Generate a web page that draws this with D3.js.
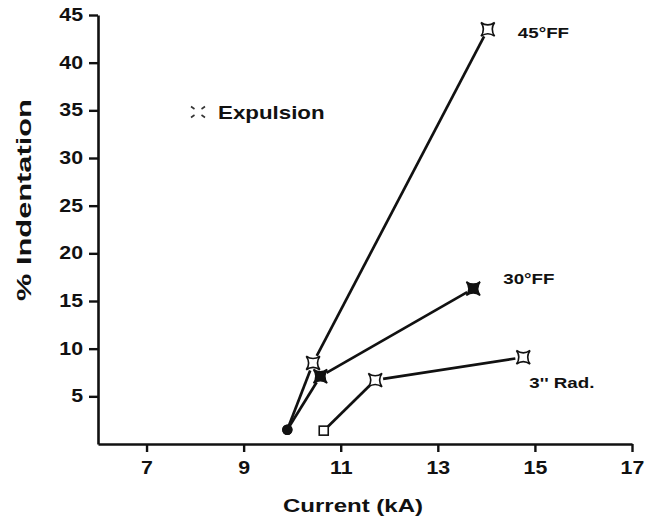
<!DOCTYPE html>
<html>
<head>
<meta charset="utf-8">
<script src="https://cdn.jsdelivr.net/npm/d3@7"></script>
<style>
  body { margin: 0; background: #fff; }
  svg { display: block; }
  text { font-family: "Liberation Sans", Arial, Helvetica, sans-serif; font-weight: bold; fill: #111; }
</style>
</head>
<body>
<svg id="svg"></svg>
<script>
let svg = d3.select("#svg");

const width = 646;
const height = 517;

// data
const current45 = [9.9, 10.43, 14.03];
const indent45 = [1.5, 8.5, 43.5];
const marker45 = ["circle", "openStar", "openStar"];

const current30 = [9.9, 10.58, 13.73];
const indent30 = [1.5, 7.1, 16.3];
const marker30 = ["circle", "filledStar", "filledStar"];

const currentRad = [10.65, 11.71, 14.76];
const indentRad = [1.4, 6.7, 9.1];
const markerRad = ["square", "openStar", "openStar"];

const seriesNames = ["45°FF", "30°FF", "3'' Rad."];
const xTicks = [7, 9, 11, 13, 15, 17];
const yTicks = [5, 10, 15, 20, 25, 30, 35, 40, 45];

// the scanned lettering is wider than the font, stretch it a bit
const sx = 1.22;

svg.attr("width", width).attr("height", height);

let x = d3.scaleLinear().domain([6, 17]).range([98, 632]);
let y = d3.scaleLinear().domain([0, 45]).range([444, 15]);

// axes
let xAxis = svg.append("g")
    .attr("transform", `translate(0,${y(0)})`)
    .call(d3.axisBottom(x).tickValues(xTicks).tickSize(8).tickSizeOuter(0).tickPadding(10));

let yAxis = svg.append("g")
    .attr("transform", `translate(${x(6)},0)`)
    .call(d3.axisLeft(y).tickValues(yTicks).tickSize(9).tickSizeOuter(0).tickPadding(6));

[xAxis, yAxis].forEach(ax => {
    ax.select(".domain").attr("stroke", "#111").attr("stroke-width", 2.6);
    ax.selectAll(".tick line").attr("stroke", "#111").attr("stroke-width", 2.4);
    ax.selectAll(".tick text")
        .attr("fill", "#111")
        .style("font-size", "17.5px")
        .attr("transform", `scale(${sx},1)`);
});
yAxis.selectAll(".tick text").attr("x", -15 / sx);

function stretchedText(str, tx, ty, size, anchor, rot, stretch) {
    return svg.append("text")
        .attr("transform", `translate(${tx},${ty}) rotate(${rot || 0}) scale(${stretch || sx},1)`)
        .attr("text-anchor", anchor)
        .style("font-size", size + "px")
        .text(str);
}

// axis titles
stretchedText("Current (kA)", 353, 512, 18.5, "middle", 0, 1.3);
stretchedText("% Indentation", 31, 200, 19.5, "middle", -90, 1.58);

// markers
function starPath(r) {
    let c = r * 0.3;
    return `M${-r},${-r}Q0,${-c} ${r},${-r}Q${c},0 ${r},${r}Q0,${c} ${-r},${r}Q${-c},0 ${-r},${-r}Z`;
}

function drawMarker(kind, px, py) {
    if (kind === "circle") {
        svg.append("circle").attr("cx", px).attr("cy", py).attr("r", 5.2).attr("fill", "#111");
    } else if (kind === "square") {
        svg.append("rect").attr("x", px - 4.5).attr("y", py - 4.5)
            .attr("width", 9).attr("height", 9)
            .attr("fill", "#fff").attr("stroke", "#111").attr("stroke-width", 1.6);
    } else {
        svg.append("path").attr("d", starPath(6.8))
            .attr("transform", `translate(${px},${py})`)
            .attr("fill", kind === "filledStar" ? "#111" : "#fff")
            .attr("stroke", "#111").attr("stroke-width", 1.6);
    }
}

const gaps = { circle: 4, square: 6, openStar: 8, filledStar: 7 };

function drawSeries(xs, ys, marks) {
    for (let i = 0; i < xs.length - 1; i++) {
        let x0 = x(xs[i]), y0 = y(ys[i]);
        let x1 = x(xs[i + 1]), y1 = y(ys[i + 1]);
        let len = Math.hypot(x1 - x0, y1 - y0);
        let ux = (x1 - x0) / len, uy = (y1 - y0) / len;
        let g0 = gaps[marks[i]], g1 = gaps[marks[i + 1]];
        svg.append("line")
            .attr("x1", x0 + ux * g0).attr("y1", y0 + uy * g0)
            .attr("x2", x1 - ux * g1).attr("y2", y1 - uy * g1)
            .attr("stroke", "#111").attr("stroke-width", 2.7);
    }
    xs.forEach((d, i) => drawMarker(marks[i], x(d), y(ys[i])));
}

drawSeries(current45, indent45, marker45);
drawSeries(current30, indent30, marker30);
drawSeries(currentRad, indentRad, markerRad);

// series labels, offset from the last point of each series
const lastPts = [
    [current45[2], indent45[2], 30, 9],
    [current30[2], indent30[2], 30, -5],
    [currentRad[2], indentRad[2], 6, 31]
];
lastPts.forEach((p, i) => {
    stretchedText(seriesNames[i], x(p[0]) + p[2], y(p[1]) + p[3], 15, "start", 0, 1.25);
});

// legend
let lg = svg.append("g").attr("transform", "translate(198,112)");
[[-1, -1], [1, -1], [1, 1], [-1, 1]].forEach(c => {
    lg.append("line")
        .attr("x1", c[0] * 3.5).attr("y1", c[1] * 3)
        .attr("x2", c[0] * 7).attr("y2", c[1] * 5.5)
        .attr("stroke", "#333").attr("stroke-width", 1.6);
});
stretchedText("Expulsion", 218, 118.5, 18, "start", 0, 1.24);
</script>
</body>
</html>
